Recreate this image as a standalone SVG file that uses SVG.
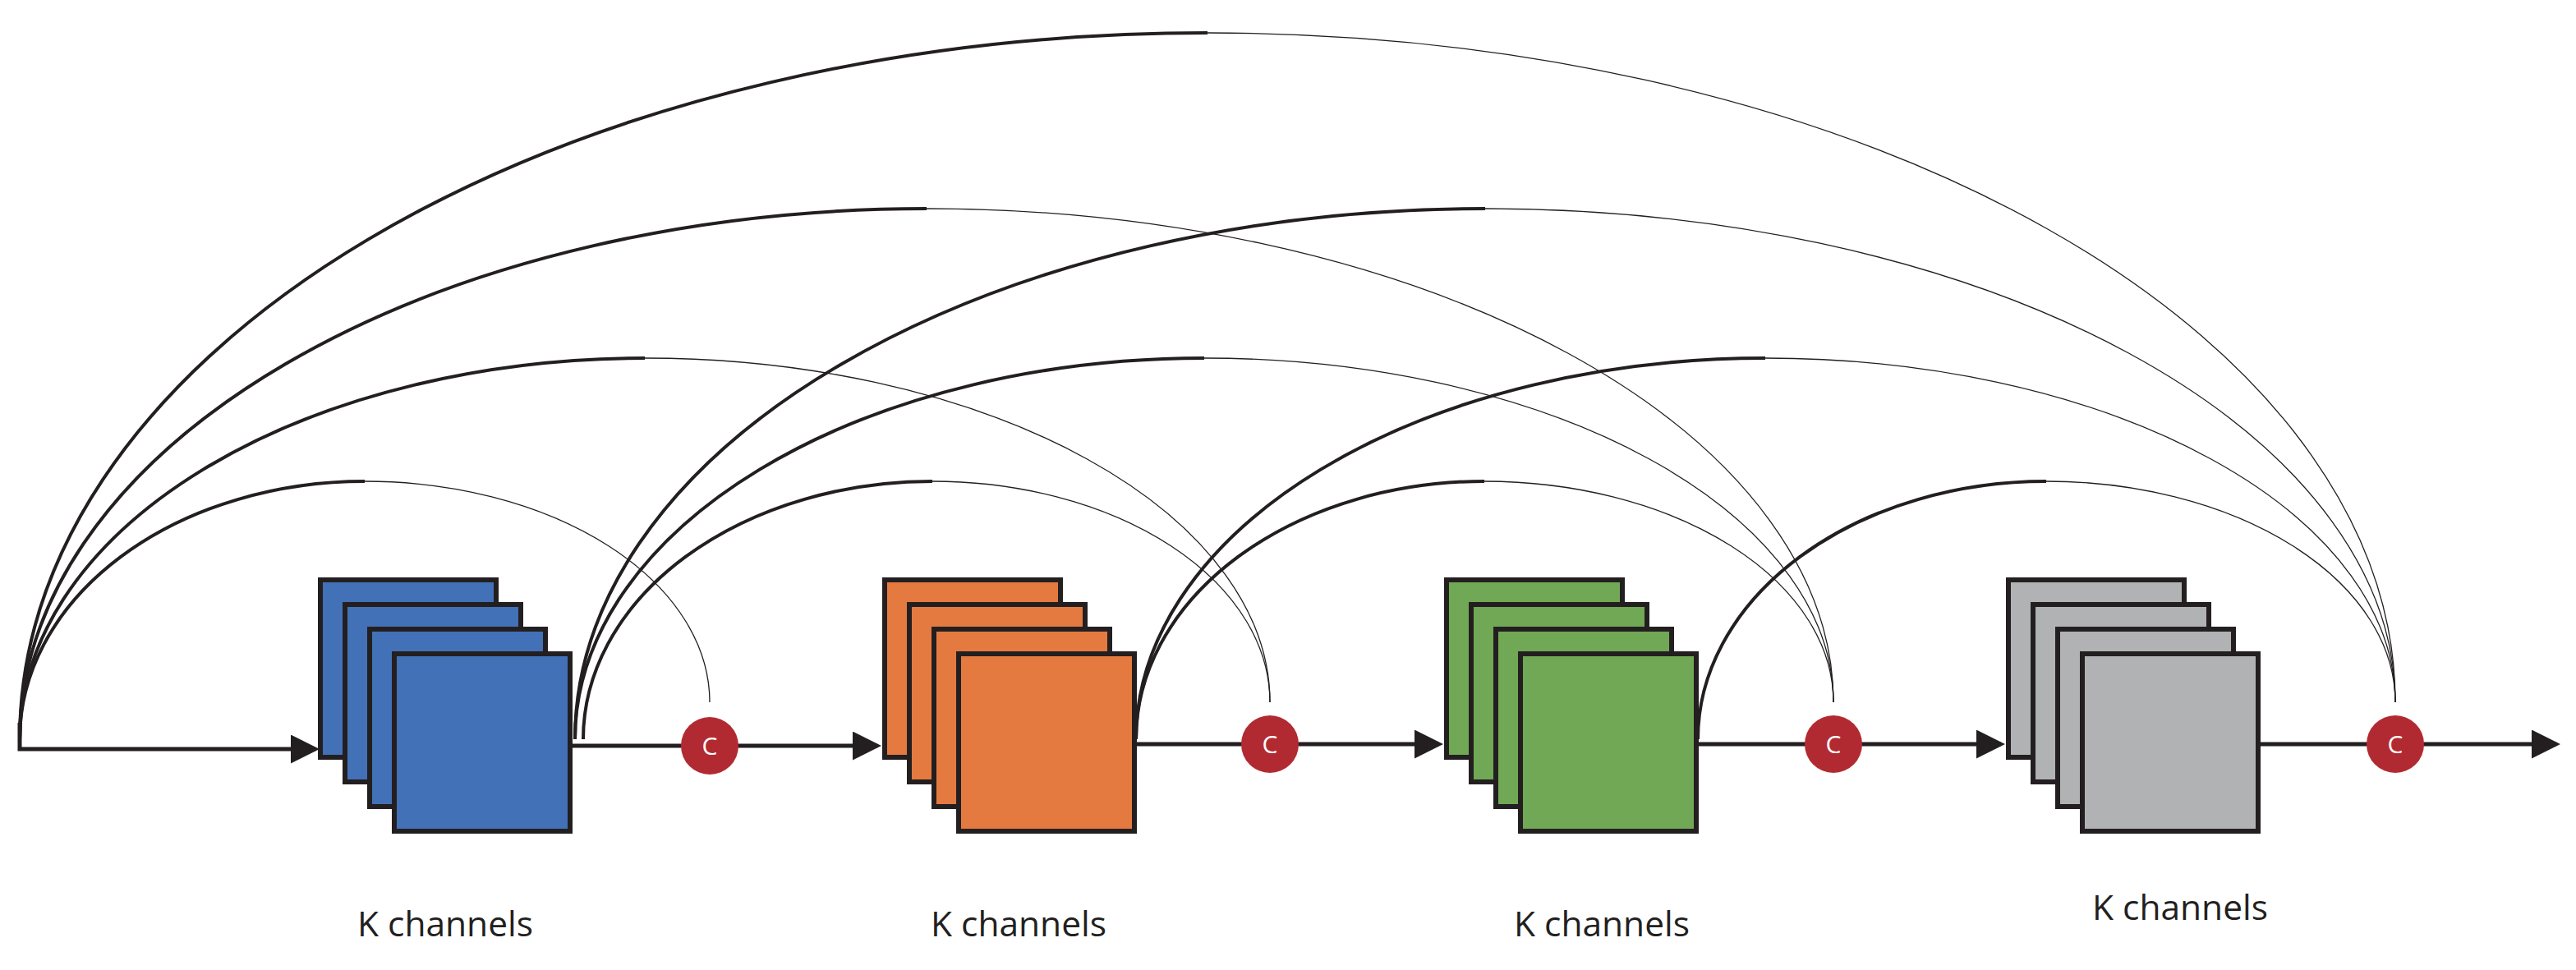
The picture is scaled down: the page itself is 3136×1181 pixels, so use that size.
<svg xmlns="http://www.w3.org/2000/svg" width="3136" height="1181" viewBox="0 0 3136 1181">
<style>
.st rect{stroke:#231f20;stroke-width:6}
.b rect{fill:#4271b7}.o rect{fill:#e57a40}.g rect{fill:#70a855}.y rect{fill:#b1b2b4}
.ln{fill:none;stroke:#231f20;stroke-width:5}
.tk{fill:none;stroke:#231f20;stroke-width:4}
.tn{fill:none;stroke:#231f20;stroke-width:1.3}
.cc{fill:#b22a31}
.ct{fill:#fff;font-family:'Open Sans',sans-serif;font-size:30px;text-anchor:middle}
.lb{fill:#231f20;font-family:'Open Sans',sans-serif;font-size:42px;text-anchor:middle}
</style>
<defs><marker id="ah" markerWidth="7" markerHeight="7" refX="6" refY="3.5" orient="auto" markerUnits="strokeWidth"><path d="M0,0L7,3.5L0,7z" fill="#231f20"/></marker></defs>
<g id="connectors">
<path class="ln" d="M24,880V912H384" marker-end="url(#ah)"/>
<path class="ln" d="M696,908H830M898,908H1068" marker-end="url(#ah)"/>
<path class="ln" d="M1383,906H1512M1580,906H1752" marker-end="url(#ah)"/>
<path class="ln" d="M2067,906H2198M2266,906H2436" marker-end="url(#ah)"/>
<path class="ln" d="M2751,906H2882M2950,906H3112" marker-end="url(#ah)"/>
<!-- arcs: left thick, right thin -->
<path class="tk" d="M24,900A420,314 0 0 1 444,586M710,900A425,314 0 0 1 1135,586M1383,900A424,314 0 0 1 1807,586M2067,900A424,314 0 0 1 2491,586"/>
<path class="tn" d="M444,586A420,269 0 0 1 864,855M1135,586A411,269 0 0 1 1546,855M1807,586A425,269 0 0 1 2232,855M2491,586A425,269 0 0 1 2916,855"/>
<path class="tk" d="M24,900A761,464 0 0 1 785,436M700,900A766,464 0 0 1 1466,436M1383,900A766,464 0 0 1 2149,436"/>
<path class="tn" d="M785,436A761,419 0 0 1 1546,855M1466,436A766,419 0 0 1 2232,855M2149,436A767,419 0 0 1 2916,855"/>
<path class="tk" d="M24,900A1104,646 0 0 1 1128,254M700,900A1108,646 0 0 1 1808,254"/>
<path class="tn" d="M1128,254A1104,601 0 0 1 2232,855M1808,254A1108,601 0 0 1 2916,855"/>
<path class="tk" d="M24,900A1446,860 0 0 1 1470,40"/>
<path class="tn" d="M1470,40A1446,815 0 0 1 2916,855"/>
</g>
<g id="stack1" class="st b"><rect x="390" y="706" width="214" height="216"/><rect x="420" y="736" width="214" height="216"/><rect x="450" y="766" width="214" height="216"/><rect x="480" y="796" width="214" height="216"/></g>
<g id="stack2" class="st o"><rect x="1077" y="706" width="214" height="216"/><rect x="1107" y="736" width="214" height="216"/><rect x="1137" y="766" width="214" height="216"/><rect x="1167" y="796" width="214" height="216"/></g>
<g id="stack3" class="st g"><rect x="1761" y="706" width="214" height="216"/><rect x="1791" y="736" width="214" height="216"/><rect x="1821" y="766" width="214" height="216"/><rect x="1851" y="796" width="214" height="216"/></g>
<g id="stack4" class="st y"><rect x="2445" y="706" width="214" height="216"/><rect x="2475" y="736" width="214" height="216"/><rect x="2505" y="766" width="214" height="216"/><rect x="2535" y="796" width="214" height="216"/></g>
<g id="c1"><circle class="cc" cx="864" cy="908" r="35"/><text class="ct" x="864" y="919">C</text></g>
<g id="c2"><circle class="cc" cx="1546" cy="906" r="35"/><text class="ct" x="1546" y="917">C</text></g>
<g id="c3"><circle class="cc" cx="2232" cy="906" r="35"/><text class="ct" x="2232" y="917">C</text></g>
<g id="c4"><circle class="cc" cx="2916" cy="906" r="35"/><text class="ct" x="2916" y="917">C</text></g>
<g id="labels">
<text class="lb" x="542" y="1140" textLength="214" lengthAdjust="spacingAndGlyphs">K channels</text>
<text class="lb" x="1240" y="1140" textLength="214" lengthAdjust="spacingAndGlyphs">K channels</text>
<text class="lb" x="1950" y="1140" textLength="214" lengthAdjust="spacingAndGlyphs">K channels</text>
<text class="lb" x="2654" y="1120" textLength="214" lengthAdjust="spacingAndGlyphs">K channels</text>
</g>
</svg>
